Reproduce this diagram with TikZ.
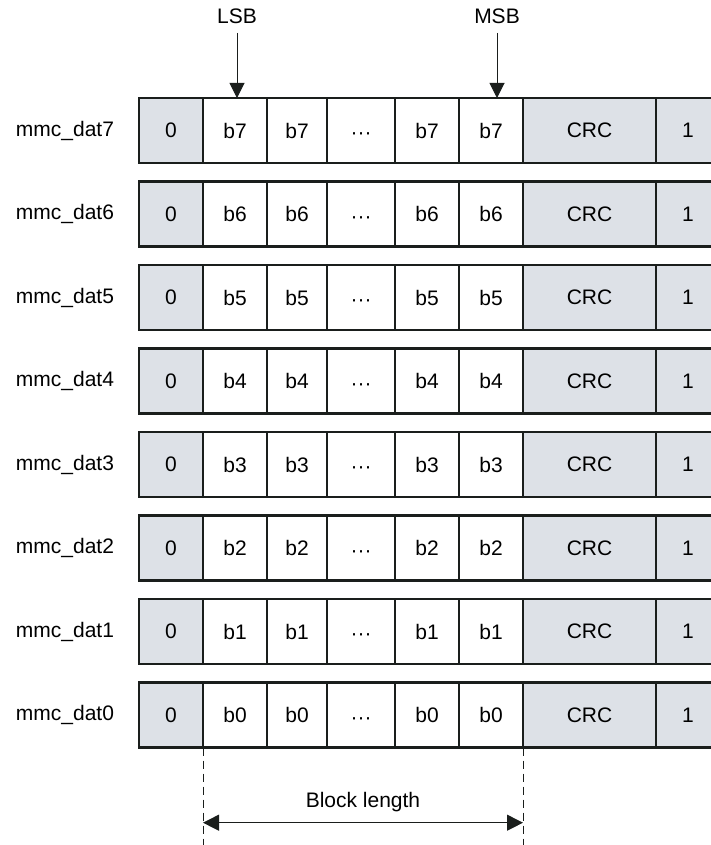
\documentclass[tikz,border=0pt]{standalone}
\usepackage{fontspec}
\setmainfont{Liberation Sans}
\usetikzlibrary{positioning,arrows.meta,calc}
\definecolor{cellgray}{RGB}{221,225,231}
\definecolor{edge}{RGB}{26,30,28}
\tikzset{
  cell/.style={draw=edge, line width=1.3pt, minimum height=32.5pt, inner sep=0pt, outer sep=0pt, font=\fontsize{10.5}{12}\selectfont},
  graycell/.style={cell, fill=cellgray},
  lbl/.style={font=\fontsize{10.5}{12}\selectfont, inner sep=1pt},
  tip/.style={-{Triangle[length=7.5pt,width=7.5pt]}, line width=0.5pt, draw=edge},
  guide/.style={dashed, dash pattern=on 4pt off 2.5pt, line width=0.5pt, draw=edge}
}
\newcommand\gapdots{\vphantom{b0}\smash{\raisebox{-0.8pt}{···}}}
\begin{document}
\begin{tikzpicture}[x=0.5pt, y=0.5pt]
    \useasboundingbox (0,0) rectangle (711,-845);
    \clip (0,0) rectangle (711,-845);

    % one row per data line
    \foreach \r in {7,...,0} {
        \pgfmathsetmacro\yc{-(130.5+83.5*(7-\r))}
        \node[lbl] (l\r) at (65,\yc) {mmc\_dat\r};
        \node[graycell, minimum width=32pt, anchor=west] (s\r) at (139,\yc) {0};
        \node[cell, minimum width=32pt, right=0pt of s\r] (a\r) {b\r};
        \node[cell, minimum width=30pt, right=0pt of a\r] (b\r) {b\r};
        \node[cell, minimum width=34pt, right=0pt of b\r] (c\r) {\gapdots};
        \node[cell, minimum width=32pt, right=0pt of c\r] (d\r) {b\r};
        \node[cell, minimum width=32pt, right=0pt of d\r] (e\r) {b\r};
        \node[graycell, minimum width=66.5pt, right=0pt of e\r] (crc\r) {CRC};
        \node[graycell, minimum width=32pt, right=0pt of crc\r, text width=27pt, align=center] (p\r) {1};
    }

    % bit order
    \node[lbl] (lsb) at (237,-16) {LSB};
    \node[lbl] (msb) at (497,-16) {MSB};
    \draw[tip] (lsb.south |- 0,-33) -- (lsb.south |- a7.north);
    \draw[tip] (msb.south |- 0,-33) -- (msb.south |- e7.north);

    % block length
    \coordinate (bl) at (a0.south west |- 0,-845);
    \coordinate (br) at (e0.south east |- 0,-845);
    \draw[guide] (a0.south west) -- (bl);
    \draw[guide] (e0.south east) -- (br);
    \draw[tip, {Triangle[length=8pt,width=8pt]}-{Triangle[length=8pt,width=8pt]}] ($(a0.south west |- 0,-822.7)$) -- ($(e0.south east |- 0,-822.7)$) node[lbl, midway, above=4pt] (len) {Block length};
\end{tikzpicture}
\end{document}
